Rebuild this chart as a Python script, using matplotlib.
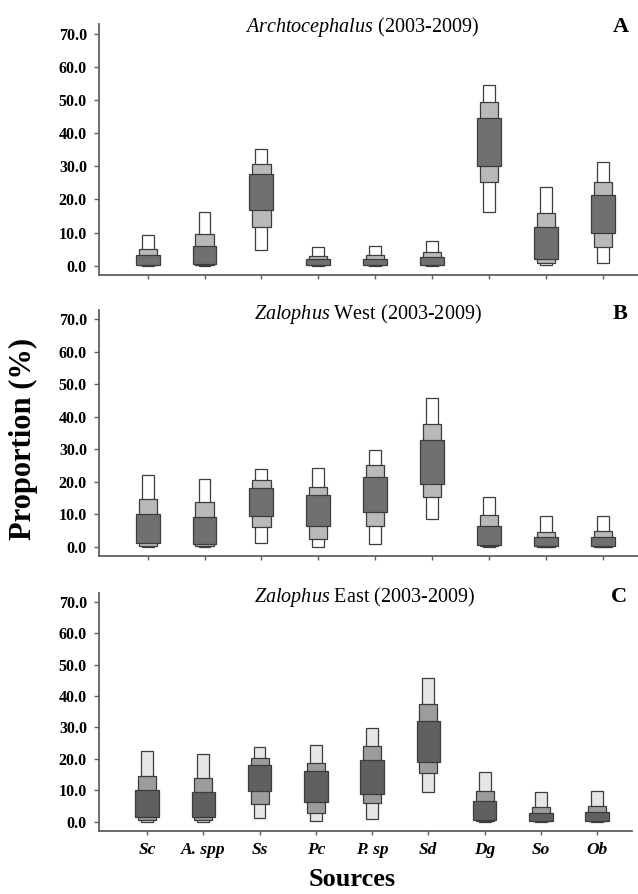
import matplotlib
matplotlib.use("Agg")
import matplotlib.pyplot as plt
import numpy as np

plt.rcParams['font.family'] = ['Liberation Serif', 'DejaVu Serif']
plt.rcParams['mathtext.fontset'] = 'custom'
plt.rcParams['mathtext.rm'] = 'Liberation Serif'
plt.rcParams['mathtext.it'] = 'Liberation Serif:italic'
plt.rcParams['mathtext.bf'] = 'Liberation Serif:bold'

# ---------------- data ----------------
sources = ['Sc', 'A. spp', 'Ss', 'Pc', 'P. sp', 'Sd', 'Dg', 'So', 'Ob']
yticks = [0, 10, 20, 30, 40, 50, 60, 70]

# Panel A: Archtocephalus  (low, high) credible intervals, %
A_95 = [(0, 9.4), (0, 16.1), (4.8, 35.2), (0, 5.6), (0, 6.0), (0, 7.5), (16.3, 54.6), (0.1, 23.6), (0.9, 31.2)]
A_75 = [(0.1, 5.1), (0.2, 9.7), (11.8, 30.6), (0.1, 2.9), (0.1, 3.3), (0.1, 4.1), (25.2, 49.3), (0.9, 16.0), (5.6, 25.2)]
A_50 = [(0.3, 3.1), (0.4, 5.9), (16.7, 27.6), (0.2, 2.0), (0.2, 2.0), (0.2, 2.6), (30.2, 44.6), (2.0, 11.6), (9.8, 21.2)]

# Panel B: Zalophus West
B_95 = [(0, 22.2), (0, 20.9), (1.1, 23.8), (0, 24.3), (1.0, 29.9), (8.7, 45.7), (0.1, 15.5), (0, 9.4), (0, 9.6)]
B_75 = [(0.4, 14.6), (0.4, 13.7), (6.1, 20.6), (2.3, 18.4), (6.4, 25.1), (15.4, 37.9), (0.3, 9.9), (0.1, 4.7), (0.1, 4.8)]
B_50 = [(1.2, 10.0), (1.0, 9.1), (9.6, 18.0), (6.3, 16.1), (10.6, 21.5), (19.3, 32.7), (0.7, 6.5), (0.2, 3.0), (0.2, 3.1)]

# Panel C: Zalophus East
C_95 = [(0, 22.5), (0, 21.4), (1.3, 23.9), (0.3, 24.4), (0.8, 29.8), (9.3, 45.7), (0, 15.7), (0, 9.4), (0, 9.9)]
C_75 = [(0.5, 14.6), (0.5, 13.8), (5.6, 20.3), (2.7, 18.8), (5.8, 24.2), (15.4, 37.3), (0.3, 9.8), (0.1, 4.7), (0.1, 4.9)]
C_50 = [(1.4, 10.1), (1.4, 9.3), (9.7, 18.0), (6.2, 16.1), (8.8, 19.7), (18.9, 31.9), (0.5, 6.6), (0.2, 2.9), (0.2, 3.1)]

titles = [r'$\mathit{Archtocephalus}$ (2003-2009)',
          r'$\mathit{Zalophus}$ West (2003-2009)',
          r'$\mathit{Zalophus}$ East (2003-2009)']
letters = ['A', 'B', 'C']

# ---------------- layout ----------------
W, H = 638, 894
fig = plt.figure(figsize=(W / 100, H / 100), dpi=100)

def rect(l, r, t, b):
    return [l / W, 1 - b / H, (r - l) / W, (b - t) / H]

panel_rects = [rect(98.7, 638, 24.4, 275.0),
               rect(98.7, 638, 309.9, 556.1),
               rect(98.7, 632, 592.9, 830.5)]
title_pos = [(361.7, 27), (367.5, 314), (365, 597)]
letter_pos = [(621, 27), (620, 314), (619, 597)]

colors_AB = ['#ffffff', '#b9b9b9', '#707070']
colors_C = ['#e6e6e6', '#9c9c9c', '#606060']
widths = [0.21, 0.32, 0.42]
edge = '#3c3c3c'

panels = [(A_95, A_75, A_50), (B_95, B_75, B_50), (C_95, C_75, C_50)]
x = np.arange(1, len(sources) + 1)

for i, (ints, r) in enumerate(zip(panels, panel_rects)):
    ax = fig.add_axes(r)
    cols = colors_C if i == 2 else colors_AB
    for k, iv in enumerate(ints):
        lo = np.array([p[0] for p in iv])
        hi = np.array([p[1] for p in iv])
        ax.bar(x, hi - lo, bottom=lo, width=widths[k], color=cols[k],
               edgecolor=edge, linewidth=0.9, zorder=2 + k)
    ax.set_xlim(0.14, 9.62)
    ax.set_ylim(-2.8, 72.8)
    ax.set_yticks(yticks)
    ax.set_yticklabels(['%.1f' % v for v in yticks], fontsize=11.5, fontweight='bold')
    ax.set_xticks(x)
    if i == 2:
        ax.set_xticklabels(sources, fontsize=12.5, fontweight='bold', fontstyle='italic')
    else:
        ax.set_xticklabels([])
    for s in ['top', 'right']:
        ax.spines[s].set_visible(False)
    for s in ['left', 'bottom']:
        ax.spines[s].set_color('#606060')
        ax.spines[s].set_linewidth(1.3)
    ax.tick_params(axis='y', length=3.5, width=1, color='#606060', pad=5)
    ax.tick_params(axis='x', length=3, width=1, color='#606060', pad=5)
    fig.text(title_pos[i][0] / W, 1 - title_pos[i][1] / H, titles[i],
             ha='center', va='center', fontsize=14.5)
    fig.text(letter_pos[i][0] / W, 1 - letter_pos[i][1] / H, letters[i],
             ha='center', va='center', fontsize=16, fontweight='bold')

fig.text(23.3 / W, 1 - 439 / H, 'Proportion (%)', rotation=90, ha='center',
         va='center', fontsize=22, fontweight='bold')
fig.text(352 / W, 1 - 879 / H, 'Sources', ha='center', va='center',
         fontsize=19, fontweight='bold')

fig.savefig('out.png', dpi=100)
